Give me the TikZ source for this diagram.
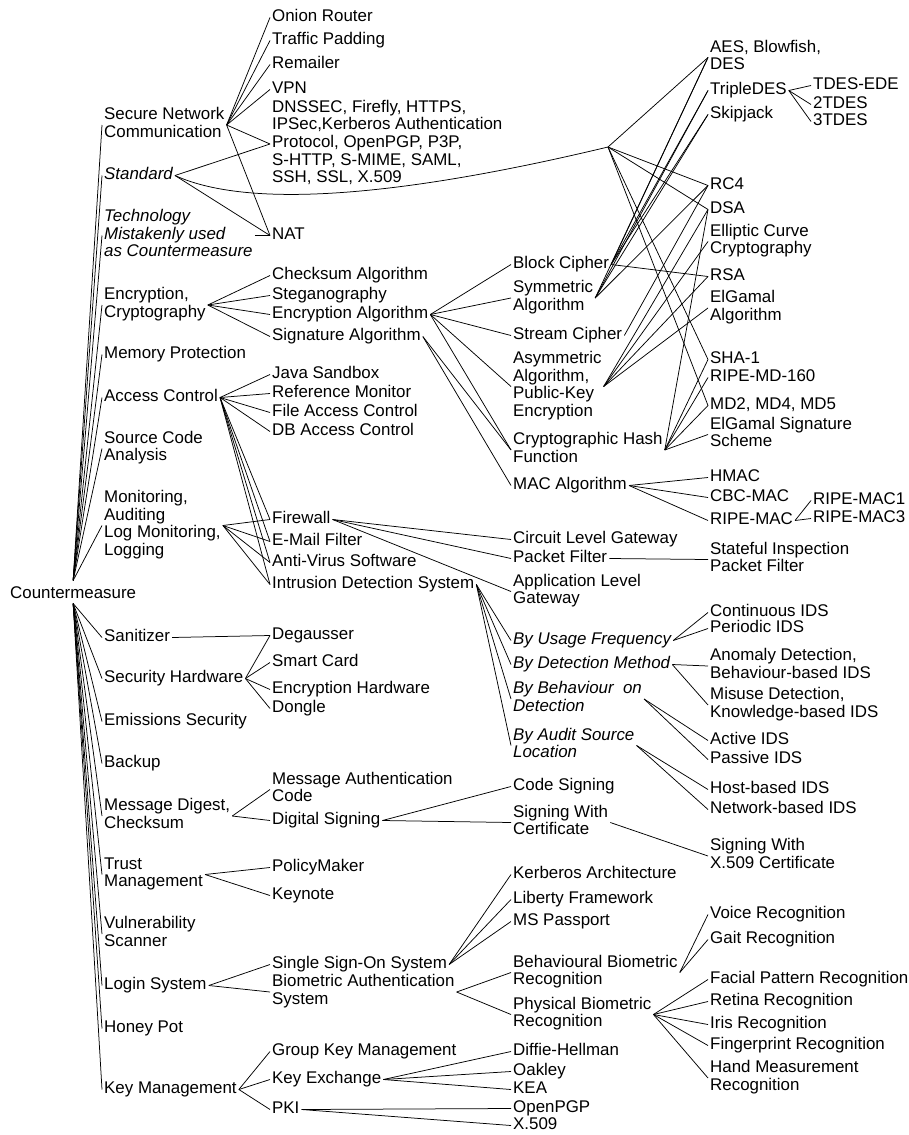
\documentclass[tikz,border=0pt]{standalone}
\usepackage{fontspec}
\setmainfont{Liberation Sans}
% one left-aligned block of lines per node
\newcommand\tbox[1]{\begin{tabular}{@{}l@{}}#1\end{tabular}}
% \mknode[style]{name}{left x}{first line y}{last line y}{text}
\newcommand\mknode[6][tx]{\node[#1] (#2) at ({#3-2},{(#4+#5)/2+2.5}) {\tbox{#6}};}
% parent -> list of children
\newcommand\link[2]{\foreach \tgt in {#2}{\draw[ln] (#1.east) -- (\tgt.west);}}
\tikzset{
  tx/.style={inner xsep=2pt, inner ysep=0pt, anchor=west, text=black,
    font=\fontsize{16.9}{17.6}\selectfont},
  ti/.style={tx, font=\fontsize{16.9}{17.6}\selectfont\itshape},
  ln/.style={draw=black, line width=0.75pt}
}
\begin{document}
\begin{tikzpicture}[x=1pt,y=-1pt]
\fill[white] (0,0) rectangle (909,1135);
\path[use as bounding box] (0,0) rectangle (909,1135);

% root
\mknode{cm}{10}{592}{592}{Countermeasure}

% first level
\mknode{snc}{104}{113}{132}{Secure Network\\Communication}
\mknode[ti]{std}{104}{173}{173}{Standard}
\mknode[ti]{tech}{104}{216}{250}{Technology\\Mistakenly used\\as Countermeasure}
\mknode{enc}{104}{293}{312}{Encryption,\\Cryptography}
\mknode{mem}{104}{352}{352}{Memory Protection}
\mknode{acc}{104}{395}{395}{Access Control}
\mknode{src}{104}{437}{455}{Source Code\\Analysis}
\mknode{mon}{104}{497}{549}{Monitoring,\\Auditing\\Log Monitoring,\\Logging}
\mknode{san}{104}{635}{635}{Sanitizer}
\mknode{shw}{104}{676}{676}{Security Hardware}
\mknode{ems}{104}{719}{719}{Emissions Security}
\mknode{bak}{104}{761}{761}{Backup}
\mknode{mdg}{104}{805}{822}{Message Digest,\\Checksum}
\mknode{trust}{104}{863}{881}{Trust\\Management}
\mknode{vuln}{104}{923}{940}{Vulnerability\\Scanner}
\mknode{login}{104}{983}{983}{Login System}
\mknode{honey}{104}{1026}{1026}{Honey Pot}
\mknode{keym}{104}{1087}{1087}{Key Management}

% second level
\mknode{onion}{272}{15}{15}{Onion Router}
\mknode{traffic}{272}{38}{38}{Traffic Padding}
\mknode{remailer}{272}{62}{62}{Remailer}
\mknode{vpn}{272}{87}{87}{VPN}
\mknode{dns}{272}{106}{177}{DNSSEC, Firefly, HTTPS,\\IPSec,Kerberos Authentication\\Protocol, OpenPGP, P3P,\\S-HTTP, S-MIME, SAML,\\SSH, SSL, X.509}
\mknode{nat}{272}{233}{233}{NAT}
\mknode{chk}{272}{273}{273}{Checksum Algorithm}
\mknode{steg}{272}{293}{293}{Steganography}
\mknode{encalg}{272}{312}{312}{Encryption Algorithm}
\mknode{sigalg}{272}{334}{334}{Signature Algorithm}
\mknode{java}{272}{372}{372}{Java Sandbox}
\mknode{refmon}{272}{391}{391}{Reference Monitor}
\mknode{fac}{272}{410}{410}{File Access Control}
\mknode{dbac}{272}{429}{429}{DB Access Control}
\mknode{fw}{272}{517}{517}{Firewall}
\mknode{mail}{272}{539}{539}{E-Mail Filter}
\mknode{av}{272}{560}{560}{Anti-Virus Software}
\mknode{ids}{272}{582}{582}{Intrusion Detection System}
\mknode{deg}{272}{633}{633}{Degausser}
\mknode{smart}{272}{660}{660}{Smart Card}
\mknode{enchw}{272}{687}{687}{Encryption Hardware}
\mknode{dongle}{272}{706}{706}{Dongle}
\mknode{mac}{272}{778}{796}{Message Authentication\\Code}
\mknode{dsig}{272}{818}{818}{Digital Signing}
\mknode{policy}{272}{865}{865}{PolicyMaker}
\mknode{keynote}{272}{893}{893}{Keynote}
\mknode{sso}{272}{962}{962}{Single Sign-On System}
\mknode{bio}{272}{981}{998}{Biometric Authentication\\System}
\mknode{gkm}{272}{1049}{1049}{Group Key Management}
\mknode{kex}{272}{1077}{1077}{Key Exchange}
\mknode{pki}{272}{1107}{1107}{PKI}

% third level
\mknode{block}{513}{262}{262}{Block Cipher}
\mknode{sym}{513}{287}{304}{Symmetric\\Algorithm}
\mknode{stream}{513}{333}{333}{Stream Cipher}
\mknode{asym}{513}{358}{410}{Asymmetric\\Algorithm,\\Public-Key\\Encryption}
\mknode{hash}{513}{439}{456}{Cryptographic Hash\\Function}
\mknode{macalg}{513}{483}{483}{MAC Algorithm}
\mknode{circ}{513}{537}{537}{Circuit Level Gateway}
\mknode{pf}{513}{556}{556}{Packet Filter}
\mknode{alg}{513}{581}{597}{Application Level\\Gateway}
\mknode[ti]{byu}{513}{638}{638}{By Usage Frequency}
\mknode[ti]{byd}{513}{662}{662}{By Detection Method}
\mknode[ti]{byb}{513}{688}{705}{By Behaviour\ \ on\\Detection}
\mknode[ti]{bya}{513}{735}{751}{By Audit Source\\Location}
\mknode{csign}{513}{784}{784}{Code Signing}
\mknode{scert}{513}{812}{828}{Signing With\\Certificate}
\mknode{kerb}{513}{872}{872}{Kerberos Architecture}
\mknode{lib}{513}{897}{897}{Liberty Framework}
\mknode{msp}{513}{919}{919}{MS Passport}
\mknode{bbio}{513}{962}{978}{Behavioural Biometric\\Recognition}
\mknode{pbio}{513}{1003}{1021}{Physical Biometric\\Recognition}
\mknode{dh}{513}{1049}{1049}{Diffie-Hellman}
\mknode{oak}{513}{1069}{1069}{Oakley}
\mknode{kea}{513}{1087}{1087}{KEA}
\mknode{opgp}{513}{1106}{1106}{OpenPGP}
\mknode{xfive}{513}{1123}{1123}{X.509}

% fourth level
\mknode{aes}{710}{47}{63}{AES, Blowfish,\\DES}
\mknode{tdes}{710}{88}{88}{TripleDES}
\mknode{skip}{710}{112}{112}{Skipjack}
\mknode{rcf}{710}{183}{183}{RC4}
\mknode{dsa}{710}{207}{207}{DSA}
\mknode{ecc}{710}{230}{248}{Elliptic Curve\\Cryptography}
\mknode{rsa}{710}{274}{274}{RSA}
\mknode{elg}{710}{297}{314}{ElGamal\\Algorithm}
\mknode{sha}{710}{357}{357}{SHA-1}
\mknode{ripemd}{710}{375}{375}{RIPE-MD-160}
\mknode{md}{710}{403}{403}{MD2, MD4, MD5}
\mknode{elgs}{710}{423}{441}{ElGamal Signature\\Scheme}
\mknode{hmac}{710}{475}{475}{HMAC}
\mknode{cbc}{710}{495}{495}{CBC-MAC}
\mknode{rmac}{710}{518}{518}{RIPE-MAC}
\mknode{sfi}{710}{548}{566}{Stateful Inspection\\Packet Filter}
\mknode{cont}{710}{610}{610}{Continuous IDS}
\mknode{peri}{710}{626}{626}{Periodic IDS}
\mknode{anom}{710}{655}{672}{Anomaly Detection,\\Behaviour-based IDS}
\mknode{mis}{710}{694}{711}{Misuse Detection,\\Knowledge-based IDS}
\mknode{act}{710}{738}{738}{Active IDS}
\mknode{pas}{710}{757}{757}{Passive IDS}
\mknode{host}{710}{787}{787}{Host-based IDS}
\mknode{net}{710}{807}{807}{Network-based IDS}
\mknode{sxfive}{710}{845}{862}{Signing With\\X.509 Certificate}
\mknode{voice}{710}{912}{912}{Voice Recognition}
\mknode{gait}{710}{937}{937}{Gait Recognition}
\mknode{face}{710}{977}{977}{Facial Pattern Recognition}
\mknode{ret}{710}{999}{999}{Retina Recognition}
\mknode{iris}{710}{1022}{1022}{Iris Recognition}
\mknode{fing}{710}{1043}{1043}{Fingerprint Recognition}
\mknode{hand}{710}{1067}{1084}{Hand Measurement\\Recognition}

% fifth level
\mknode{tede}{813}{83}{83}{TDES-EDE}
\mknode{ttwo}{813}{102}{102}{2TDES}
\mknode{tthree}{813}{119}{119}{3TDES}
\mknode{rmone}{813}{498}{498}{RIPE-MAC1}
\mknode{rmthree}{813}{516}{516}{RIPE-MAC3}

% branch point of the standards
\coordinate (hub) at (608,147);

% root connectors
\foreach \tgt in {snc,std,tech,enc,mem,acc,src,mon}
  \draw[ln] ([yshift=5pt]cm.north) -- (\tgt.west);
\foreach \tgt in {san,shw,ems,bak,mdg,trust,vuln,login,honey,keym}
  \draw[ln] (cm.south) -- (\tgt.west);

% first level connectors
\link{snc}{onion,traffic,remailer,vpn,dns,nat}
\link{std}{dns,nat}
\draw[ln] (std.east) .. controls (255,212) and (420,192) .. (hub);
\link{tech}{nat}
\link{enc}{chk,steg,encalg,sigalg}
\link{acc}{java,refmon,fac,dbac,fw,mail,av,ids}
\link{mon}{fw,mail,av,ids}
\link{san}{deg}
\link{shw}{deg,smart,enchw,dongle}
\link{mdg}{mac,dsig}
\link{trust}{policy,keynote}
\link{login}{sso,bio}
\link{keym}{gkm,kex,pki}

% second level connectors
\link{encalg}{block,sym,stream,asym,hash}
\link{sigalg}{hash,macalg}
\link{fw}{circ,pf,alg}
\link{ids}{byu,byd,byb,bya}
\link{dsig}{csign,scert}
\link{sso}{kerb,lib,msp}
\link{bio}{bbio,pbio}
\link{kex}{dh,oak,kea}
\link{pki}{opgp,xfive}

% third level connectors
\foreach \tgt in {aes,rcf,dsa,sha,md}
  \draw[ln] (hub) -- (\tgt.west);
\link{block}{aes,tdes,skip,rsa}
\link{sym}{aes,tdes,skip,rcf}
\link{stream}{rcf}
\link{asym}{rsa,ecc,elg,dsa}
\link{hash}{sha,ripemd,md,elgs,dsa}
\link{macalg}{hmac,cbc,rmac}
\link{pf}{sfi}
\link{byu}{cont,peri}
\link{byd}{anom,mis}
\link{byb}{act,pas}
\link{bya}{host,net}
\link{scert}{sxfive}
\link{bbio}{voice,gait}
\link{pbio}{face,ret,iris,fing,hand}

% fourth level connectors
\link{tdes}{tede,ttwo,tthree}
\link{rmac}{rmone,rmthree}
\end{tikzpicture}
\end{document}
